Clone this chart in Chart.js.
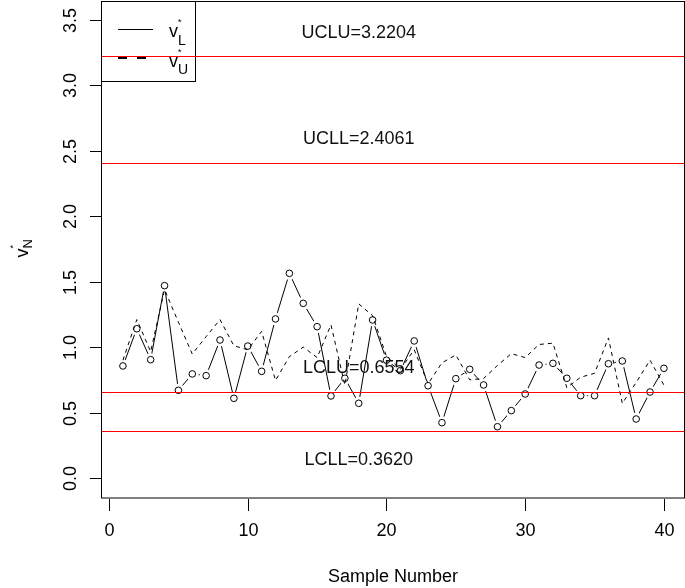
<!DOCTYPE html>
<html>
<head>
<meta charset="utf-8">
<script src="https://cdn.jsdelivr.net/npm/chart.js@4/dist/chart.umd.min.js"></script>
<style>
  html, body { margin: 0; padding: 0; background: #fff; }
  #wrap { width: 685px; height: 588px; position: relative; }
</style>
</head>
<body>
<div id="wrap"><canvas id="chart" width="685" height="588"></canvas></div>
<script>
// ═══ DATA ═══
const samples = [1,2,3,4,5,6,7,8,9,10,11,12,13,14,15,16,17,18,19,20,21,22,23,24,25,26,27,28,29,30,31,32,33,34,35,36,37,38,39,40];
const vL = [0.856,1.140,0.904,1.469,0.670,0.795,0.782,1.054,0.609,1.008,0.815,1.215,1.563,1.334,1.156,0.627,0.762,0.571,1.207,0.900,
            0.820,1.047,0.705,0.423,0.759,0.830,0.711,0.392,0.515,0.642,0.863,0.876,0.762,0.629,0.629,0.873,0.894,0.451,0.657,0.838];
const vU = [0.900,1.210,0.965,1.440,1.190,0.947,1.080,1.210,1.010,0.980,1.120,0.745,0.927,1.000,0.920,1.170,0.710,1.330,1.240,0.930,
            0.830,0.980,0.720,0.880,0.940,0.750,0.760,0.860,0.950,0.920,1.020,1.030,0.690,0.770,0.800,1.070,0.570,0.730,0.900,0.710];
const limitNames = ['UCLU','UCLL','LCLU','LCLL'];
const limitValues = [3.2204, 2.4061, 0.6554, 0.3620];
const xTicks = [0, 10, 20, 30, 40];
const yTicks = [0, 0.5, 1, 1.5, 2, 2.5, 3, 3.5];
const yTickLabels = ['0.0','0.5','1.0','1.5','2.0','2.5','3.0','3.5'];

// where the limit labels sit (data units)
const LABEL_X = 18;
const LABEL_Y = [3.40, 2.59, 0.84, 0.14];

const FONT = '"Liberation Sans", Arial, Helvetica, sans-serif';
const pts = arr => arr.map((v, i) => ({ x: samples[i], y: v }));

// ═══ AXES / LEGEND / LIMITS ═══
const rPlot = {
    id: 'rPlot',
    afterDatasetsDraw(chart) {
        const { ctx, chartArea: a, scales: { x, y } } = chart;
        ctx.save();
        // legend box
        ctx.strokeStyle = '#000'; ctx.lineWidth = 1; ctx.setLineDash([]);
        ctx.strokeRect(a.left + 0.5, a.top + 0.5, 94, 80);
        ctx.beginPath(); ctx.moveTo(118, 29.5); ctx.lineTo(153, 29.5); ctx.stroke();
        ctx.lineWidth = 2; ctx.setLineDash([9, 10]);
        ctx.beginPath(); ctx.moveTo(118, 58); ctx.lineTo(147, 58); ctx.stroke();
        ctx.setLineDash([]);
        ctx.fillStyle = '#000'; ctx.textAlign = 'left'; ctx.textBaseline = 'alphabetic';
        [['L', 37, 45], ['U', 67, 74]].forEach(([sub, base, subBase]) => {
            ctx.font = '18px ' + FONT; ctx.fillText('v', 169, base);
            ctx.font = '9px ' + FONT; ctx.fillText('*', 178, base - 12);
            ctx.font = '14px ' + FONT; ctx.fillText(sub, 178, subBase);
        });
        // red limit lines
        ctx.strokeStyle = 'rgb(255,0,0)'; ctx.lineWidth = 1;
        limitValues.forEach(v => {
            const py = Math.round(y.getPixelForValue(v)) + 0.5;
            ctx.beginPath(); ctx.moveTo(a.left, py); ctx.lineTo(a.right, py); ctx.stroke();
        });
        // limit labels
        ctx.font = '18px ' + FONT; ctx.textAlign = 'center'; ctx.textBaseline = 'middle';
        ctx.fillStyle = '#111';
        limitNames.forEach((n, i) => {
            ctx.fillText(n + '=' + limitValues[i].toFixed(4), x.getPixelForValue(LABEL_X), y.getPixelForValue(LABEL_Y[i]));
        });
        // plot box
        ctx.strokeStyle = '#000';
        ctx.strokeRect(a.left + 0.5, a.top + 0.5, a.right - a.left - 1, a.bottom - a.top - 0.5);
        // x axis
        ctx.fillStyle = '#000';
        xTicks.forEach(t => {
            const px = Math.round(x.getPixelForValue(t)) + 0.5;
            ctx.beginPath(); ctx.moveTo(px, a.bottom + 1); ctx.lineTo(px, a.bottom + 13); ctx.stroke();
            ctx.fillText(String(t), px, 531);
        });
        ctx.fillText('Sample Number', (a.left + a.right) / 2, 577);
        // y axis
        yTicks.forEach((t, i) => {
            const py = Math.round(y.getPixelForValue(t)) + 0.5;
            ctx.beginPath(); ctx.moveTo(a.left - 11, py); ctx.lineTo(a.left, py); ctx.stroke();
            ctx.save(); ctx.translate(71, py); ctx.rotate(-Math.PI / 2);
            ctx.fillText(yTickLabels[i], 0, 0); ctx.restore();
        });
        // y title: v_N^*
        ctx.save(); ctx.translate(20, (a.top + a.bottom) / 2); ctx.rotate(-Math.PI / 2);
        ctx.textAlign = 'left'; ctx.textBaseline = 'alphabetic';
        ctx.font = '18px ' + FONT; ctx.fillText('v', -8, 8);
        ctx.font = '9px ' + FONT; ctx.fillText('*', 1, -4);
        ctx.font = '13px ' + FONT; ctx.fillText('N', 1, 12);
        ctx.restore();
        ctx.restore();
    }
};

new Chart(document.getElementById('chart'), {
    type: 'line',
    data: {
        datasets: [
            { label: 'vL circles', data: pts(vL), showLine: false, order: 0,
              pointRadius: 3.3, pointBorderWidth: 1, pointBorderColor: '#000', pointBackgroundColor: 'rgba(0,0,0,0)' },
            { label: 'vU', data: pts(vU), order: 1, borderColor: '#000', borderWidth: 1, borderDash: [4, 4],
              pointRadius: 0, tension: 0, fill: false },
            { label: 'gap mask', data: pts(vL), showLine: false, order: 2,
              pointRadius: 6.5, pointBorderWidth: 0, pointBorderColor: '#fff', pointBackgroundColor: '#fff' },
            { label: 'vL', data: pts(vL), order: 3, borderColor: '#000', borderWidth: 1,
              pointRadius: 0, tension: 0, fill: false }
        ]
    },
    options: {
        responsive: false, animation: false, events: [],
        layout: { autoPadding: false, padding: { left: 101, right: 0, top: 1, bottom: 90 } },
        plugins: { legend: { display: false }, tooltip: { enabled: false } },
        scales: {
            x: { type: 'linear', display: false, min: -0.58, max: 41.52 },
            y: { type: 'linear', display: false, min: -0.152, max: 3.642 }
        }
    },
    plugins: [rPlot]
});
</script>
</body>
</html>
